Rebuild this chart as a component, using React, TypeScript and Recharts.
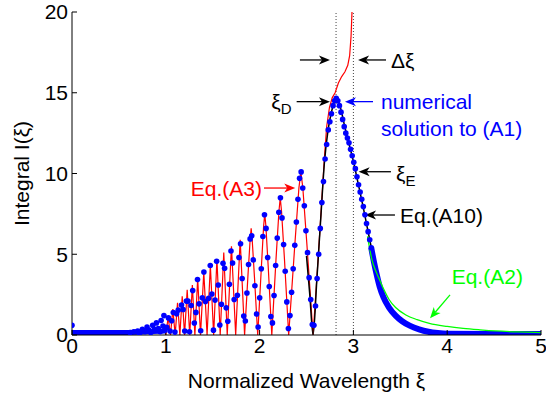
import React from 'react';
import { ComposedChart, Line, Scatter, XAxis, YAxis, ReferenceLine, ReferenceDot } from 'recharts';

const FONT = '"Liberation Sans", Arial, Helvetica, sans-serif';

// [ξ, I(ξ)] pairs
// Eq.(A3): oscillating approximation, runs off the top just below ξ = 3
const eqA3 = [
  [1.0, 0], [1.025, 1.1], [1.05, 0], [1.075, 1.6], [1.1, 0], [1.125, 2.0], [1.15, 0], [1.175, 2.4],
  [1.2, 0], [1.228, 2.8], [1.255, 0], [1.283, 3.1], [1.31, 0], [1.34, 3.5], [1.37, 0], [1.405, 3.9],
  [1.44, 0], [1.475, 4.3], [1.51, 0], [1.545, 4.7], [1.58, 0], [1.618, 5.1], [1.655, 0], [1.7, 5.5],
  [1.745, 0], [1.793, 5.9],
  [1.84, 0], [1.875, 3.6], [1.899, 5.9], [1.91, 6.6], [1.921, 5.9], [1.945, 3.6],
  [1.98, 0], [2.018, 4.1], [2.043, 6.75], [2.055, 7.5], [2.067, 6.75], [2.093, 4.1],
  [2.13, 0], [2.175, 4.7], [2.206, 7.65], [2.22, 8.5], [2.234, 7.65], [2.265, 4.7],
  [2.31, 0], [2.375, 5.55], [2.419, 9.1], [2.44, 10.1], [2.461, 9.1], [2.505, 5.55],
  [2.57, 0], [2.61, 3.5], [2.655, 7.6], [2.69, 10.9], [2.715, 12.9], [2.745, 14.1], [2.775, 14.7],
  [2.805, 15.0], [2.84, 15.6], [2.875, 16.0], [2.91, 16.3], [2.94, 16.7], [2.96, 17.3], [2.975, 18.5],
  [2.985, 20],
];

// Eq.(A10): main lobe around ξ_D
const eqA10 = [
  [2.5, 4.9], [2.535, 2.5], [2.57, 0], [2.61, 3.4], [2.655, 7.5], [2.69, 10.6], [2.73, 12.7],
  [2.77, 13.9], [2.8, 14.5], [2.815, 14.6], [2.84, 14.45], [2.87, 13.9], [2.9, 13.1], [2.946, 12.0],
  [3.0, 10.75], [3.05, 9.4], [3.105, 7.9], [3.16, 6.3], [3.195, 5.3],
];

// Eq.(A2): long-wavelength tail
const eqA2 = [
  [3.15, 6.1], [3.2, 4.6], [3.25, 3.8], [3.28, 3.4], [3.33, 2.75], [3.38, 2.2], [3.45, 1.7],
  [3.56, 1.24], [3.68, 0.95], [3.81, 0.72], [4.0, 0.53], [4.17, 0.41], [4.35, 0.32], [4.52, 0.25],
  [4.75, 0.19], [5.0, 0.15],
];

// numerical solution to (A1), sampled points
const numerical = [
  [0.0, 0.6],
  [0.62, 0.15], [0.66, 0.2], [0.7, 0.25], [0.72, 0.1], [0.75, 0.35], [0.78, 0.2], [0.8, 0.5],
  [0.82, 0.3], [0.84, 0.15], [0.86, 0.6], [0.88, 0.35], [0.9, 0.75], [0.92, 0.4], [0.94, 0.2],
  [0.95, 0.9], [0.97, 0.55], [0.98, 1.2], [0.99, 0.3],
  [1.01, 0.48], [1.028, 1.06], [1.045, 0.24], [1.0625, 0.88], [1.08, 1.39], [1.0975, 0.18],
  [1.115, 1.32], [1.1325, 1.54], [1.1675, 1.85], [1.185, 1.58],
  [1.202, 0.25], [1.219, 2.1], [1.236, 2.1], [1.253, 0.2],
  [1.27, 1.83], [1.287, 2.75], [1.304, 0.74],
  [1.321, 1.4], [1.338, 3.43], [1.355, 1.93],
  [1.372, 0.26], [1.389, 2.3], [1.406, 3.9], [1.423, 2.07],
  [1.457, 2.28], [1.474, 4.3], [1.491, 2.54], [1.508, 0.3],
  [1.525, 2.16], [1.542, 4.56], [1.559, 3.1], [1.576, 0.62],
  [1.593, 1.9], [1.61, 4.44], [1.627, 4.13], [1.644, 1.68],
  [1.661, 0.85], [1.678, 3.14], [1.695, 5.2], [1.712, 4.46], [1.729, 2.2],
  [1.763, 2.46], [1.78, 4.8], [1.797, 5.65], [1.814, 3.5], [1.831, 1.17],
  [1.848, 0.87], [1.865, 2.6], [1.882, 4.36], [1.899, 5.95], [1.916, 6.15], [1.933, 4.65],
  [1.95, 3.05], [1.967, 1.3],
  [1.984, 0.5], [2.001, 2.3], [2.018, 4.1], [2.035, 6.1], [2.052, 7.45], [2.069, 6.6],
  [2.086, 4.8], [2.103, 3.0], [2.12, 1.15],
  [2.137, 0.75], [2.154, 2.45], [2.171, 4.3], [2.188, 6.0], [2.205, 7.6], [2.222, 8.5],
  [2.239, 7.25], [2.256, 5.6], [2.273, 3.95], [2.29, 2.05], [2.307, 0.4],
  [2.324, 1.2], [2.341, 2.65], [2.358, 4.1], [2.375, 5.55], [2.392, 7.0], [2.409, 8.4],
  [2.426, 9.7], [2.443, 10.1], [2.46, 9.1], [2.477, 8.0], [2.494, 6.45], [2.511, 5.1],
  [2.528, 3.55], [2.545, 2.2], [2.562, 0.65],
  [2.579, 0.6], [2.596, 1.8], [2.613, 3.5], [2.63, 5.0], [2.647, 6.6], [2.664, 8.2], [2.681, 9.5],
  [2.698, 10.9], [2.715, 11.8], [2.732, 12.7], [2.749, 13.2], [2.766, 13.7], [2.783, 14.2],
  [2.8, 14.5], [2.817, 14.65], [2.834, 14.5], [2.851, 14.2], [2.868, 13.8], [2.885, 13.35],
  [2.902, 12.9], [2.919, 12.5], [2.936, 12.2], [2.953, 11.9], [2.97, 11.5], [2.987, 11.1],
  [3.004, 10.7], [3.021, 10.3], [3.038, 9.8], [3.055, 9.3], [3.072, 8.85], [3.089, 8.4],
  [3.106, 7.95], [3.123, 7.45], [3.14, 6.9], [3.157, 6.4], [3.174, 5.9], [3.191, 5.4],
];

// densely sampled stretches of the numerical solution (drawn as a thick band)
const numericalLow = [[0.0, 0.15], [0.3, 0.15], [0.6, 0.15], [0.8, 0.2], [1.0, 0.25]];
const numericalTail = [
  [3.19, 5.4], [3.22, 4.5], [3.25, 3.7], [3.28, 3.0], [3.32, 2.35], [3.38, 1.7], [3.45, 1.2],
  [3.52, 0.85], [3.6, 0.58], [3.7, 0.35], [3.8, 0.2], [3.9, 0.12], [4.0, 0.08], [4.5, 0.06],
  [5.0, 0.06],
];

const xTicks = [0, 1, 2, 3, 4, 5];
const yTicks = [0, 5, 10, 15, 20];
const markerXs = [2.815, 3.0]; // ξ_D and ξ_E guides

const rows = (pts: number[][]) => pts.map(([x, y]) => ({ x, y }));

const BLUE = '#0000ff';
const RED = '#ff0000';
const GREEN = '#00ff00';
const BLACK = '#000000';

type Arrow = { from: [number, number]; to: [number, number]; color: string };
const arrows: Arrow[] = [
  { from: [2.047, 9.1], to: [2.38, 9.1], color: RED },
  { from: [2.395, 14.45], to: [2.75, 14.45], color: BLACK },
  { from: [2.43, 17.03], to: [2.75, 17.03], color: BLACK },
  { from: [3.348, 17.03], to: [3.05, 17.03], color: BLACK },
  { from: [3.209, 14.45], to: [2.91, 14.45], color: BLUE },
  { from: [3.4, 10.11], to: [3.056, 10.11], color: BLACK },
  { from: [3.443, 7.43], to: [3.124, 7.43], color: BLACK },
  { from: [4.03, 2.48], to: [3.817, 1.03], color: GREEN },
];

type Note = { at: [number, number]; text: string; sub?: string; color: string; anchor: 'start' | 'end' };
const notes: Note[] = [
  { at: [2.026, 9.1], text: 'Eq.(A3)', color: RED, anchor: 'end' },
  { at: [2.34, 14.45], text: 'ξ', sub: 'D', color: BLACK, anchor: 'end' },
  { at: [3.4, 17.03], text: 'Δξ', color: BLACK, anchor: 'start' },
  { at: [3.294, 14.45], text: 'numerical', color: BLUE, anchor: 'start' },
  { at: [3.294, 12.8], text: 'solution to (A1)', color: BLUE, anchor: 'start' },
  { at: [3.454, 10.0], text: 'ξ', sub: 'E', color: BLACK, anchor: 'start' },
  { at: [3.497, 7.43], text: 'Eq.(A10)', color: BLACK, anchor: 'start' },
  { at: [4.048, 3.61], text: 'Eq.(A2)', color: GREEN, anchor: 'start' },
];

// arrow with a notched, filled head at the "to" end
const arrowShape = (color: string) => (p: any) => {
  const { x1, y1, x2, y2 } = p;
  const dx = x2 - x1;
  const dy = y2 - y1;
  const len = Math.hypot(dx, dy) || 1;
  const ux = dx / len;
  const uy = dy / len;
  const hl = 11;
  const hw = 4.5;
  const notch = 3;
  const bx = x2 - ux * hl;
  const by = y2 - uy * hl;
  const nx = x2 - ux * (hl - notch);
  const ny = y2 - uy * (hl - notch);
  const head = [
    [x2, y2],
    [bx - uy * hw, by + ux * hw],
    [nx, ny],
    [bx + uy * hw, by - ux * hw],
  ].map((q) => q.join(',')).join(' ');
  return (
    <g>
      <line x1={x1} y1={y1} x2={nx} y2={ny} stroke={color} strokeWidth={1.3} />
      <polygon points={head} fill={color} />
    </g>
  );
};

const noteShape = (n: Note) => (p: any) => (
  <text x={p.cx} y={p.cy} dy="0.36em" textAnchor={n.anchor} fill={n.color} fontSize={21} fontFamily={FONT}>
    {n.text}
    {n.sub && (
      <tspan dy="0.35em" fontSize={15}>
        {n.sub}
      </tspan>
    )}
  </text>
);

const dot = (p: any) => <circle cx={p.cx} cy={p.cy} r={2.8} fill={BLUE} />;

const tickStyle = { fontSize: 21, fill: '#000', fontFamily: FONT };

export default function App() {
  return (
    <div style={{ position: 'absolute', left: 0, top: 0, width: 546, height: 400, background: '#fff' }}>
      <ComposedChart width={546} height={400} margin={{ top: 12, right: 5, bottom: 0, left: 0 }}>
        <XAxis
          type="number"
          dataKey="x"
          domain={[0, 5]}
          ticks={xTicks}
          interval={0}
          allowDataOverflow
          height={65}
          tickSize={-5}
          tickMargin={8}
          tick={tickStyle}
          axisLine={{ stroke: '#000' }}
          tickLine={{ stroke: '#000' }}
          label={{
            content: (p: any) => {
              const vb = p.viewBox;
              return (
                <text x={vb.x + vb.width / 2} y={vb.y + 53} textAnchor="middle" fontSize={21} fontFamily={FONT} fill="#000">
                  Normalized Wavelength ξ
                </text>
              );
            },
          }}
        />
        <XAxis
          xAxisId="top"
          orientation="top"
          type="number"
          domain={[0, 5]}
          ticks={xTicks}
          interval={0}
          height={0}
          tickSize={-5}
          tick={false}
          axisLine={{ stroke: '#000' }}
          tickLine={{ stroke: '#000' }}
        />
        <YAxis
          type="number"
          domain={[0, 20]}
          ticks={yTicks}
          interval={0}
          allowDataOverflow
          width={72}
          tickSize={-5}
          tickMargin={9}
          tick={tickStyle}
          axisLine={{ stroke: '#000' }}
          tickLine={{ stroke: '#000' }}
          label={{
            content: (p: any) => {
              const vb = p.viewBox;
              const cx = vb.x + 22;
              const cy = vb.y + vb.height / 2;
              return (
                <text
                  x={cx}
                  y={cy}
                  dy="0.35em"
                  transform={`rotate(-90 ${cx} ${cy})`}
                  textAnchor="middle"
                  fontSize={21}
                  fontFamily={FONT}
                  fill="#000"
                >
                  Integral I(ξ)
                </text>
              );
            },
          }}
        />
        <YAxis
          yAxisId="right"
          orientation="right"
          type="number"
          domain={[0, 20]}
          ticks={yTicks}
          interval={0}
          width={0}
          tickSize={-5}
          tick={false}
          axisLine={{ stroke: '#000' }}
          tickLine={{ stroke: '#000' }}
        />

        {markerXs.map((x) => (
          <ReferenceLine key={x} x={x} stroke="#444" strokeDasharray="1 2" strokeWidth={1} />
        ))}

        <Line data={rows(numericalLow)} dataKey="y" stroke={BLUE} strokeWidth={5} dot={false} isAnimationActive={false} />
        <Line data={rows(numericalTail)} dataKey="y" type="monotone" stroke={BLUE} strokeWidth={6} dot={false} isAnimationActive={false} />
        <Line data={rows(eqA3)} dataKey="y" stroke={RED} strokeWidth={1.2} dot={false} isAnimationActive={false} />
        <Scatter data={rows(numerical)} dataKey="y" shape={dot} isAnimationActive={false} />
        <Line data={rows(eqA10)} dataKey="y" type="monotone" stroke={BLACK} strokeWidth={1.5} dot={false} isAnimationActive={false} />
        <Line data={rows(eqA2)} dataKey="y" type="monotone" stroke={GREEN} strokeWidth={1.3} dot={false} isAnimationActive={false} />

        {arrows.map((a, i) => (
          <ReferenceLine
            key={`a${i}`}
            segment={[{ x: a.from[0], y: a.from[1] }, { x: a.to[0], y: a.to[1] }]}
            stroke={a.color}
            shape={arrowShape(a.color)}
          />
        ))}
        {notes.map((n, i) => (
          <ReferenceDot key={`n${i}`} x={n.at[0]} y={n.at[1]} r={0} shape={noteShape(n)} />
        ))}
      </ComposedChart>
    </div>
  );
}
